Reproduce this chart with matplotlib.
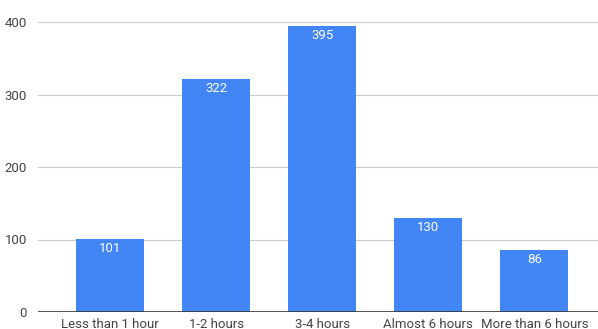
import numpy as np
import matplotlib.pyplot as plt

plt.rcParams['font.family'] = ['Roboto', 'DejaVu Sans']

categories = ['Less than 1 hour', '1-2 hours', '3-4 hours', 'Almost 6 hours', 'More than 6 hours']
counts = [101, 322, 395, 130, 86]
yticks = [0, 100, 200, 300, 400]

fig = plt.figure(figsize=(5.98, 3.29), dpi=100)
ax = fig.add_axes([38/598, 17/329, 560/598, 290/329])

x = np.arange(len(categories))
bars = ax.bar(x, counts, width=0.64, color='#4285F4', zorder=3)

for xi, v in zip(x, counts):
    ax.text(xi, v - 14, str(v), ha='center', va='center', color='white', fontsize=9.5, zorder=4)

ax.set_xlim(-0.68, 4.6)
ax.set_ylim(0, 400)
ax.set_yticks(yticks)
ax.set_xticks(x)
ax.set_xticklabels(categories)
ax.grid(axis='y', color='#cccccc', linewidth=0.8, zorder=0)
ax.axhline(0, color='#333333', linewidth=1.2, zorder=5)
for s in ax.spines.values():
    s.set_visible(False)
ax.tick_params(axis='both', length=0, colors='#444444', labelsize=9.5)
ax.tick_params(axis='y', pad=8)
ax.tick_params(axis='x', pad=4)

fig.savefig('out.png', dpi=100)
